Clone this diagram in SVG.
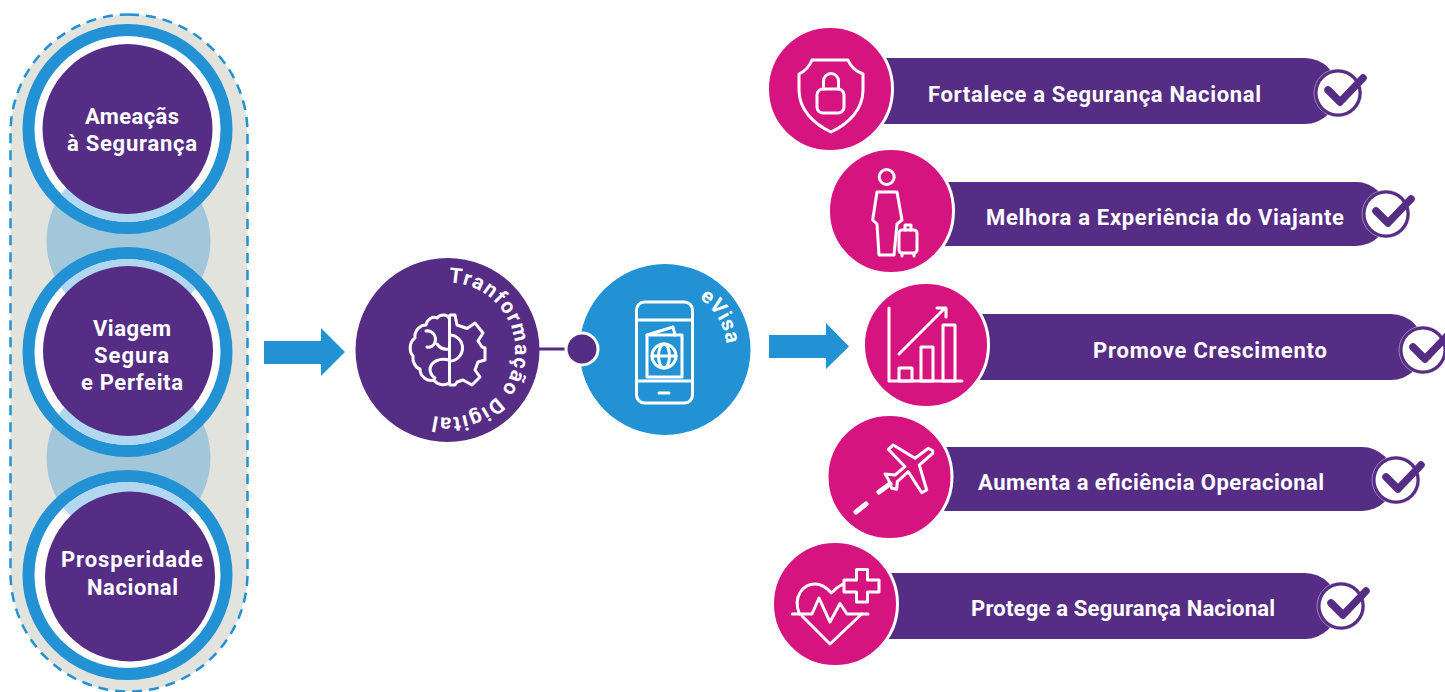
<svg xmlns="http://www.w3.org/2000/svg" xmlns:xlink="http://www.w3.org/1999/xlink" width="1445" height="692" viewBox="0 0 1445 692">
<style>
text{font-family:"Roboto","Liberation Sans",sans-serif;font-weight:700;fill:#fff;font-size:22px}
.ico{fill:none;stroke:#fff;stroke-width:3;stroke-linejoin:round;stroke-linecap:round}
.pink{fill:#d6147f;stroke:#fff;stroke-width:3}
.bar{fill:#562d85}
.ring{fill:#fff;stroke:#2292d4;stroke-width:12}
.lt{fill:#b2d7f0}
.pur{fill:#562d85}
.tick{fill:none;stroke:#562d85;stroke-width:7.500;stroke-linecap:round;stroke-linejoin:round}
.arr{fill:#2292d4}
</style>
<defs>
<clipPath id="c1"><circle cx="127.500" cy="129" r="93"/></clipPath>
<clipPath id="c2"><circle cx="127.500" cy="352" r="93"/></clipPath>
<clipPath id="c3"><circle cx="127.500" cy="575" r="93"/></clipPath>
<path id="p1" d="M447.500 282.500A67.500 67.500 0 1 1 447.500 417.500A67.500 67.500 0 1 1 447.500 282.500" fill="none"/>
<path id="p2" d="M665 288A61.500 61.500 0 0 1 665 411A61.500 61.500 0 0 1 665 288" fill="none"/>
<g id="tk"><circle cx="0" cy="0" r="24" fill="#562d85" stroke="#fff" stroke-opacity=".4" stroke-width="1"/><circle cx="0" cy="0" r="20.500" fill="#fff"/><path class="tick" d="M-10 -3L2 9L25 -15"/></g>
</defs>

<g id="container">
<rect x="10.500" y="14.500" width="237" height="677" rx="118.500" fill="#e3e3de" stroke="#2292d4" stroke-width="2.500" stroke-dasharray="10 7"/>
<circle cx="128.500" cy="241" r="82" fill="#a2c7da"/>
<circle cx="128.500" cy="458" r="82" fill="#a2c7da"/>
</g>

<g id="node-ameacas">
<circle class="ring" cx="127.500" cy="129" r="99"/>
<circle class="lt" cx="128.500" cy="241" r="82" clip-path="url(#c1)"/>
<circle class="pur" cx="127.500" cy="129" r="85"/>
<text x="85" y="124" textLength="94">Ameaçãs</text>
<text x="67" y="151" textLength="130">à Segurança</text>
</g>
<g id="node-viagem">
<circle class="ring" cx="127.500" cy="352" r="99"/>
<circle class="lt" cx="128.500" cy="241" r="82" clip-path="url(#c2)"/>
<circle class="lt" cx="128.500" cy="458" r="82" clip-path="url(#c2)"/>
<circle class="pur" cx="128" cy="351" r="85"/>
<text x="93" y="336" textLength="78">Viagem</text>
<text x="94" y="363" textLength="75">Segura</text>
<text x="81" y="390" textLength="102">e Perfeita</text>
</g>
<g id="node-prosperidade">
<circle class="ring" cx="127.500" cy="575" r="99"/>
<circle class="lt" cx="128.500" cy="458" r="82" clip-path="url(#c3)"/>
<circle class="pur" cx="130" cy="576.500" r="85"/>
<text x="61" y="567" textLength="142">Prosperidade</text>
<text x="87" y="595" textLength="91">Nacional</text>
</g>

<g id="connectors">
<path class="arr" d="M264 341H321V328L345 352L321 376V364H264Z"/>
<path class="arr" d="M769 335H826V323L849 346.500L826 369V358H769Z"/>
<path d="M539 349H570" stroke="#562d85" stroke-width="3" fill="none"/>
</g>

<g id="node-evisa">
<circle cx="665" cy="349.500" r="85.500" fill="#2292d4"/>
<g class="ico">
<rect x="636.500" y="302" width="56" height="101" rx="8"/>
<path d="M636.500 320H692.500M636.500 381H692.500M659 393H669"/>
<rect x="647" y="335" width="35" height="42"/>
<path d="M647 335L673 327L675 335"/>
<circle cx="664" cy="356" r="12"/>
<ellipse cx="664" cy="356" rx="5.500" ry="12"/>
<path d="M652 356H676"/>
</g>
<text style="font-size:21px;letter-spacing:.5px"><textPath xlink:href="#p2" href="#p2" startOffset="36">eVisa</textPath></text>
</g>

<g id="node-transformacao">
<circle cx="447.500" cy="350" r="92" fill="#562d85"/>
<g class="ico">
<path d="M449.500 316V384"/>
<path d="M450 315H455L457 325L467 328.500L475 323L483 333L478 341L482 347L485 348V360L478 362L475 370L480 377L472 385L463 380L457 382L455 385H450"/>
<path d="M449.500 335A13 13 0 0 1 449.500 361"/>
<path d="M449 318C447 314 440 314 437 318C433 316 427 319 426 325C420 325 414 331 415 338C409 342 409 352 413 356C412 362 416 368 420 369C420 377 428 382 434 380C437 385 445 386 449 383"/>
<path d="M426 331C432 330 437 336 435 342C434 346 430 348 427 347M437 344C440 348 444 350 449 349M449 360C440 358 431 361 430 369C430 373 432 376 435 378"/>
</g>
<text style="font-size:21px;letter-spacing:1.350px"><textPath xlink:href="#p1" href="#p1" startOffset="1">Tranformação Digital</textPath></text>
</g>
<g id="dot"><circle cx="582" cy="349" r="16" fill="#562d85" stroke="#fff" stroke-width="3"/></g>

<g id="node-fortalece">
<path class="bar" d="M870 58H1305A33 33 0 0 1 1305 124H870Z"/>
<circle class="pink" cx="830" cy="89" r="62.500"/>
<g class="ico"><path d="M812 60H848Q852 70 863 74V90C863 110 848 124 831 132C814 124 799 110 799 90V74Q808 70 812 60Z"/><rect x="817" y="89" width="27" height="24" rx="6"/><path d="M823.500 89V81A7.500 7.500 0 0 1 838.500 81V89"/></g>
<text x="928" y="102" textLength="333">Fortalece a Segurança Nacional</text>
<use href="#tk" x="1338" y="93"/>
</g>
<g id="node-melhora">
<path class="bar" d="M930 182H1356A32 32 0 0 1 1356 246H930Z"/>
<circle class="pink" cx="891" cy="211" r="62.500"/>
<g class="ico"><circle cx="886.700" cy="177" r="7.500"/><path d="M877 192H897L902 220L897 224L894 255H879L877 224L872.700 220Z"/><rect x="899" y="230" width="18" height="23" rx="3"/><path d="M905 230V225H911V230M902 253V256M914 253V256"/></g>
<text x="986" y="225" textLength="358">Melhora a Experiência do Viajante</text>
<use href="#tk" x="1386" y="214"/>
</g>
<g id="node-promove">
<path class="bar" d="M960 314H1391A33 33 0 0 1 1391 380H960Z"/>
<circle class="pink" cx="926" cy="345" r="62.500"/>
<g class="ico"><path d="M889 308V381H962"/><rect x="899" y="368" width="13" height="13"/><rect x="921" y="347" width="12" height="34"/><rect x="943" y="325" width="12" height="56"/><path d="M899 354L945 308M937 308H946V317"/></g>
<text x="1093" y="358" textLength="234">Promove Crescimento</text>
<use href="#tk" x="1423" y="350"/>
</g>
<g id="node-aumenta">
<path class="bar" d="M930 447H1362A32 32 0 0 1 1362 511H930Z"/>
<circle class="pink" cx="889.500" cy="477" r="62.500"/>
<g class="ico"><path d="M932.700 450.700L928.300 448.300L915 458.300L893.300 445L888.300 449.300L905 466.700L895 475L885 474L888.300 479.300L891.700 488.300L896.700 489.300L897.300 481.700L908.300 471.700L921.700 492.700L926.700 490L919.300 465L932.700 453.300Z"/><path d="M879 492L890 484" stroke-width="5"/><path d="M856 512L866 504" stroke-width="5"/></g>
<text x="978" y="490" textLength="346">Aumenta a eficiência Operacional</text>
<use href="#tk" x="1396" y="480"/>
</g>
<g id="node-protege">
<path class="bar" d="M870 573H1305A33 33 0 0 1 1305 639H870Z"/>
<circle class="pink" cx="835" cy="604" r="62.500"/>
<g class="ico"><path d="M792.300 614H812L819 598L830 622L840 603.500L847 614H868"/><path d="M799.500 614C792 596 804 584 815 584C822 584 827 588 831.500 593C835 589 839 586 843 584M861.700 614L830 644L802 616"/><path d="M856.500 569.500H867.500V580H879V592H867.500V602H856.500V592H844V580H856.500Z" fill="#d6147f"/></g>
<text x="971" y="616" textLength="304">Protege a Segurança Nacional</text>
<use href="#tk" x="1341" y="606"/>
</g>
</svg>
